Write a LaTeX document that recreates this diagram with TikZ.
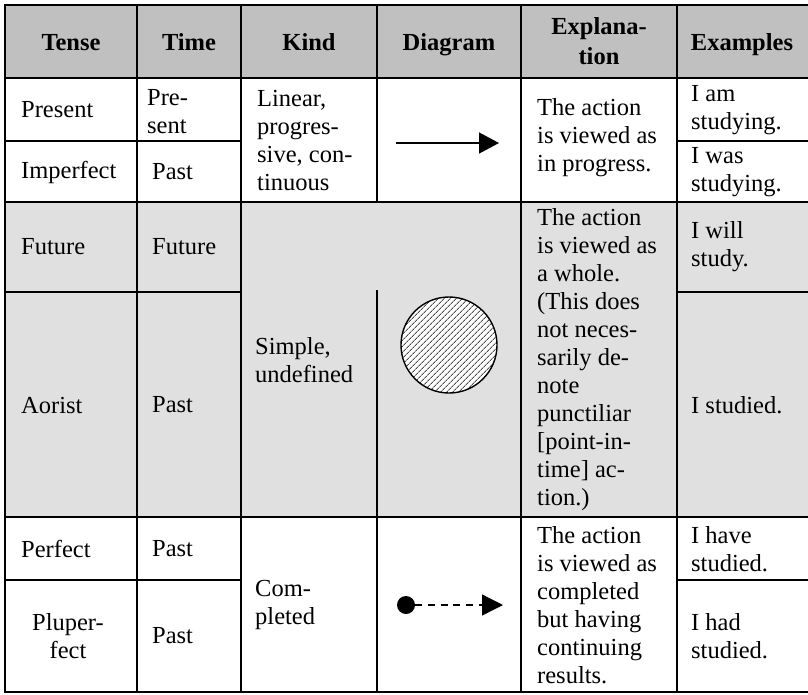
\documentclass[tikz,border=0pt]{standalone}
\usepackage{fontspec}
\setmainfont{Liberation Serif}
\usetikzlibrary{arrows.meta,patterns.meta}
\definecolor{hdrgray}{RGB}{192,192,192}
\definecolor{rowgray}{RGB}{224,224,224}
\begin{document}
\begin{tikzpicture}[x=1pt,y=-1pt,
  grid/.style={line width=1.6pt,line cap=rect},
  txt/.style={inner sep=0pt,font=\fontsize{24.5}{28}\selectfont,align=left,anchor=west},
  ctxt/.style={inner sep=0pt,font=\fontsize{24.5}{28}\selectfont,align=center,anchor=center},
  hdr/.style={inner sep=0pt,font=\bfseries\fontsize{24.5}{30}\selectfont,align=center}]
\useasboundingbox (0,0) rectangle (808,694);
% backgrounds
\fill[hdrgray] (5,5) rectangle (808,78);
\fill[rowgray] (5,202) rectangle (808,517);
% horizontal rules
\draw[grid] (5,5) -- (808,5);
\draw[grid] (5,78) -- (808,78);
\draw[grid] (5,141) -- (241,141);
\draw[grid] (677,141) -- (808,141);
\draw[grid] (5,202) -- (808,202);
\draw[grid] (5,292) -- (241,292);
\draw[grid] (677,292) -- (808,292);
\draw[grid] (5,517) -- (808,517);
\draw[grid] (5,580) -- (241,580);
\draw[grid] (677,580) -- (808,580);
\draw[grid] (5,692) -- (808,692);
% vertical rules
\draw[grid] (5,5) -- (5,692);
\draw[grid] (137,5) -- (137,692);
\draw[grid] (241,5) -- (241,692);
\draw[grid] (377,5) -- (377,202);
\draw[grid] (377,291) -- (377,692);
\draw[grid] (521,5) -- (521,692);
\draw[grid] (677,5) -- (677,692);
% header
\node[hdr,anchor=base] (hTense) at (71,50) {Tense};
\node[hdr,anchor=base] (hTime) at (189,50) {Time};
\node[hdr,anchor=base] (hKind) at (309,50) {Kind};
\node[hdr,anchor=base] (hDiag) at (449,50) {Diagram};
\node[hdr,anchor=center] (hExpl) at (599,41) {Explana-\\tion};
\node[hdr,anchor=base] (hEx) at (742,50) {Examples};
% column 1
\node[txt] (t1) at (21,110) {Present};
\node[txt] (t2) at (21,172) {Imperfect};
\node[txt] (t3) at (21,247) {Future};
\node[txt] (t4) at (21,405) {Aorist};
\node[txt] (t5) at (21,549) {Perfect};
\node[ctxt] (t6) at (68,636) {Pluper-\\fect};
% column 2
\node[txt] (m1) at (147,112) {Pre-\\sent};
\node[txt] (m2) at (152,172) {Past};
\node[txt] (m3) at (152,247) {Future};
\node[txt] (m4) at (152,405) {Past};
\node[txt] (m5) at (152,549) {Past};
\node[txt] (m6) at (152,636) {Past};
% column 3
\node[txt] (k1) at (257,141) {Linear,\\progres-\\sive, con-\\tinuous};
\node[txt] (k2) at (255,360) {Simple,\\undefined};
\node[txt] (k3) at (255,605) {Com-\\pleted};
% diagrams
\coordinate (lS) at (396,143);
\coordinate (lE) at (499,143);
\draw[line width=1.3pt,-{Triangle[length=20pt,width=21pt]}] (lS) -- (lE);
\node[circle,draw,line width=1.4pt,minimum size=96pt,inner sep=0pt,
  preaction={fill=white},
  pattern={Lines[angle=45,distance=4pt,line width=1pt]},pattern color=black!70] (whole) at (449,345) {};
\node[circle,fill=black,inner sep=0pt,minimum size=18pt] (dot) at (406,605) {};
\coordinate (dE) at (503,605);
\draw[line width=1.3pt,dash pattern=on 7pt off 5.7pt,-{Triangle[length=21pt,width=21pt]}] (dot) -- (dE);
% explanation
\node[txt] (e1) at (537,138) {The action\\is viewed as\\in progress.};
\node[txt] (e2) at (537,360) {The action\\is viewed as\\a whole.\\(This does\\not neces-\\sarily de-\\note\\punctiliar\\{}[point-in-\\time] ac-\\tion.)};
\node[txt] (e3) at (537,605) {The action\\is viewed as\\completed\\but having\\continuing\\results.};
% examples
\node[txt] (x1) at (691,110) {I am\\studying.};
\node[txt] (x2) at (691,172) {I was\\studying.};
\node[txt] (x3) at (691,247) {I will\\study.};
\node[txt] (x4) at (691,405) {I studied.};
\node[txt] (x5) at (691,549) {I have\\studied.};
\node[txt] (x6) at (691,636) {I had\\studied.};
\end{tikzpicture}
\end{document}
